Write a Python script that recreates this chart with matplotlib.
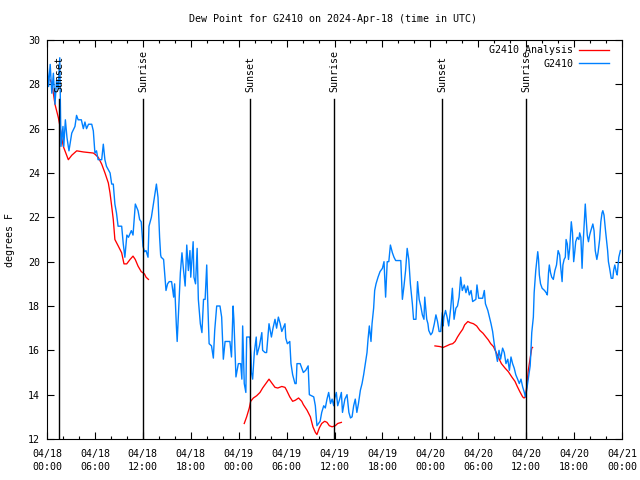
import matplotlib
matplotlib.use("Agg")
import matplotlib.pyplot as plt
from matplotlib.ticker import MultipleLocator

# x values are hours since 2024-04-18 00:00 UTC
blue_hours = [
    0.0, 0.2, 0.4, 0.6, 0.8, 1.0, 1.2, 1.4, 1.6, 1.75,
    2.0, 2.1, 2.3, 2.5, 2.75, 3.1, 3.5, 3.7, 3.9, 4.3,
    4.55, 4.75, 4.95, 5.2, 5.6, 5.8, 6.0, 6.2, 6.4, 6.85,
    7.05, 7.25, 7.45, 7.9, 8.1, 8.3, 8.5, 8.7, 8.9, 9.35,
    9.55, 9.75, 10.0, 10.2, 10.56, 10.77, 11.06, 11.4, 11.6, 11.8,
    12.02, 12.2, 12.4, 12.65, 12.77, 13.07, 13.4, 13.7, 13.9, 14.1,
    14.23, 14.3, 14.6, 14.8, 14.9, 15.1, 15.3, 15.6, 15.86, 15.98,
    16.2, 16.3, 16.5, 16.7, 16.9, 17.1, 17.3, 17.5, 17.7, 17.9,
    18.0, 18.3, 18.4, 18.6, 18.8, 18.95, 19.2, 19.4, 19.6, 19.8,
    20.0, 20.1, 20.3, 20.6, 20.83, 21.0, 21.25, 21.66, 21.87, 22.08,
    22.3, 22.9, 23.1, 23.3, 23.4, 23.66, 23.96, 24.25, 24.4, 24.5,
    24.7, 24.9, 25.0, 25.4, 25.55, 25.6, 25.75, 25.96, 26.2, 26.3,
    26.6, 26.9, 27.0, 27.3, 27.5, 27.8, 28.1, 28.3, 28.55, 28.75,
    28.97, 29.2, 29.4, 29.8, 29.9, 30.1, 30.4, 30.55, 30.76, 31.05,
    31.2, 31.3, 31.7, 31.9, 32.1, 32.4, 32.7, 32.85, 33.4, 33.6,
    33.8, 34.2, 34.4, 34.65, 34.85, 35.06, 35.27, 35.5, 35.7, 35.9,
    36.0, 36.23, 36.4, 36.65, 36.86, 37.0, 37.3, 37.57, 37.8, 38.0,
    38.2, 38.4, 38.6, 38.8, 39.0, 39.24, 39.45, 39.65, 39.86, 40.07,
    40.2, 40.36, 40.57, 40.7, 40.9, 41.03, 41.2, 41.45, 41.7, 42.0,
    42.2, 42.4, 42.6, 42.8, 43.0, 43.25, 43.45, 43.66, 44.3, 44.5,
    44.7, 44.9, 45.1, 45.3, 45.5, 45.75, 45.9, 46.2, 46.4, 46.6,
    46.8, 47.0, 47.2, 47.3, 47.55, 47.7, 47.8, 48.05, 48.25, 48.5,
    48.7, 48.9, 49.1, 49.3, 49.5, 49.6, 49.7, 49.9, 50.1, 50.3,
    50.55, 50.76, 50.97, 51.2, 51.4, 51.6, 51.8, 52.0, 52.25, 52.46,
    52.67, 52.88, 53.1, 53.3, 53.7, 53.84, 54.05, 54.55, 54.76, 54.9,
    55.2, 55.4, 55.6, 55.8, 56.0, 56.2, 56.4, 56.6, 56.8, 57.05,
    57.26, 57.47, 57.7, 57.9, 58.1, 58.3, 58.5, 58.7, 58.93, 59.14,
    59.35, 59.56, 59.77, 59.9, 60.06, 60.18, 60.3, 60.5, 60.6, 60.7,
    60.9, 61.0, 61.2, 61.35, 61.45, 61.55, 61.65, 61.8, 62.0, 62.3,
    62.5, 62.65, 62.8, 62.9, 63.05, 63.2, 63.4, 63.6, 63.8, 64.0,
    64.2, 64.3, 64.5, 64.6, 64.75, 64.9, 65.0, 65.15, 65.3, 65.45,
    65.65, 65.8, 65.95, 66.1, 66.2, 66.4, 66.6, 66.7, 66.85, 67.0,
    67.1, 67.3, 67.4, 67.5, 67.65, 67.8, 67.95, 68.1, 68.35, 68.5,
    68.65, 68.85, 69.0, 69.2, 69.35, 69.5, 69.6, 69.75, 69.95, 70.2,
    70.3, 70.45, 70.65, 70.85, 70.95, 71.1, 71.3, 71.4, 71.6, 71.8,
]
blue_dewpt = [
    29.0, 27.9, 28.9, 27.6, 28.5, 27.1, 28.2, 27.8, 29.2, 25.2,
    26.1, 25.2, 26.4, 25.6, 25.0, 25.8, 26.1, 26.6, 26.4, 26.4,
    26.0, 26.3, 26.0, 26.2, 26.2, 25.9, 24.9, 25.0, 24.6, 24.6,
    25.3, 24.6, 24.3, 24.0, 23.5, 23.5, 22.6, 22.2, 21.6, 21.6,
    20.8, 20.2, 21.2, 21.1, 21.4, 21.2, 22.6, 22.3, 21.9, 21.8,
    20.7, 20.45, 20.5, 20.2, 21.6, 22.0, 22.8, 23.5, 22.9, 21.1,
    20.3, 20.2, 20.1, 19.2, 18.7, 19.0, 19.1, 19.1, 18.4, 19.0,
    17.1, 16.4, 18.0, 19.5, 20.4, 19.6, 18.9, 20.75, 19.6, 20.5,
    19.3, 20.9, 19.3, 19.0, 20.6, 18.3, 17.2, 16.8, 18.3, 18.3,
    19.85, 18.5, 16.3, 16.2, 15.65, 16.9, 18.0, 18.0, 17.5, 15.6,
    16.4, 16.4, 15.7, 18.0, 17.4, 14.8, 15.4, 15.4, 14.7, 17.1,
    14.5, 14.1, 16.6, 16.6, 15.7, 15.0, 14.7, 15.9, 16.6, 15.8,
    16.2, 16.8, 16.0, 15.9, 15.9, 17.2, 16.6, 17.0, 17.4, 17.0,
    17.5, 17.2, 16.85, 17.2, 16.55, 16.3, 16.4, 15.4, 14.9, 14.5,
    14.5, 15.4, 15.4, 15.2, 15.0, 15.1, 15.3, 14.0, 13.9, 13.5,
    12.6, 12.8, 13.2, 13.5, 13.4, 13.8, 14.1, 13.6, 13.8, 13.5,
    13.8, 14.1, 13.5, 13.8, 14.1, 13.2, 13.8, 14.0, 13.2, 12.95,
    13.0, 13.5, 13.8, 13.2, 13.6, 14.2, 14.5, 14.9, 15.4, 15.9,
    16.5, 17.1, 16.4, 17.2, 17.9, 18.7, 19.0, 19.3, 19.55, 19.7,
    20.0, 18.4, 20.0, 20.0, 20.75, 20.4, 20.2, 20.05, 20.05, 18.3,
    18.9, 19.6, 20.6, 20.1, 19.0, 18.1, 17.4, 17.4, 19.1, 18.3,
    18.0, 17.6, 17.4, 18.4, 17.4, 17.2, 16.9, 16.7, 16.8, 17.2,
    17.6, 17.3, 16.85, 16.85, 17.7, 17.1, 17.5, 17.8, 17.5, 17.1,
    17.9, 18.8, 17.4, 17.9, 18.0, 18.4, 19.3, 18.7, 18.95, 18.6,
    18.9, 18.5, 18.7, 18.2, 18.3, 18.95, 18.35, 18.35, 18.7, 18.1,
    17.8, 17.5, 17.2, 16.85, 16.3, 15.9, 15.5, 16.0, 15.6, 16.1,
    15.9, 15.4, 15.6, 15.1, 15.7, 15.4, 15.2, 14.9, 14.7, 14.5,
    14.7, 14.35, 14.1, 13.9, 14.2, 14.5, 14.8, 15.3, 16.0, 16.8,
    17.5, 18.6, 19.6, 20.1, 20.45, 20.1, 19.4, 19.0, 18.8, 18.7,
    18.6, 18.5, 19.5, 19.85, 19.5, 19.3, 19.2, 19.6, 19.85, 20.5,
    20.3, 19.85, 19.1, 19.85, 20.1, 20.2, 21.0, 20.8, 20.1, 20.6,
    21.8, 21.3, 20.0, 20.5, 20.9, 21.1, 21.0, 21.3, 21.1, 19.7,
    20.6, 21.9, 22.6, 22.0, 21.2, 20.9, 21.2, 21.4, 21.7, 21.4,
    20.5, 20.1, 20.4, 21.0, 21.8, 22.2, 22.3, 22.1, 21.35, 20.5,
    20.0, 19.7, 19.25, 19.25, 19.6, 19.85, 19.5, 19.4, 20.2, 20.5,
]

# analysis comes in three separate runs (gaps between them)
anal1_hours = [0.4, 0.63, 1.0, 1.42, 1.63, 1.84, 2.04, 2.67, 3.1, 3.72,
               4.55, 5.8, 6.0, 6.43, 6.85, 7.26, 7.68, 7.89, 8.1, 8.3,
               8.5, 8.93, 9.35, 9.64, 9.98, 10.4, 10.77, 11.05, 11.4, 11.8,
               12.2, 12.4, 12.7]
anal1_dewpt = [28.2, 28.0, 27.1, 26.5, 26.1, 25.6, 25.2, 24.6, 24.8, 25.0,
               24.95, 24.9, 24.85, 24.7, 24.4, 24.0, 23.55, 23.1, 22.5, 21.9,
               21.0, 20.7, 20.4, 19.9, 19.9, 20.1, 20.25, 20.1, 19.8, 19.55,
               19.45, 19.3, 19.2]
anal2_hours = [24.7, 25.0, 25.33, 25.5, 25.84, 26.25, 26.67, 27.0, 27.3, 27.5,
               27.8, 28.1, 28.55, 28.9, 29.4, 29.8, 30.0, 30.4, 30.76, 31.1,
               31.5, 31.9, 32.1, 32.56, 32.98, 33.3, 33.6, 33.8, 34.1, 34.4,
               34.77, 35.06, 35.35, 35.7, 36.1, 36.4, 36.86]
anal2_dewpt = [12.7, 13.0, 13.4, 13.7, 13.85, 13.95, 14.1, 14.3, 14.45, 14.55,
               14.7, 14.55, 14.33, 14.3, 14.37, 14.33, 14.2, 13.9, 13.7, 13.75,
               13.85, 13.7, 13.55, 13.3, 13.0, 12.55, 12.3, 12.2, 12.5, 12.7,
               12.8, 12.75, 12.6, 12.55, 12.6, 12.7, 12.75]
anal3_hours = [48.58, 49.2, 49.6, 50.05, 50.46, 50.8, 51.1, 51.4, 51.7, 52.05,
               52.3, 52.7, 52.97, 53.4, 53.8, 54.2, 54.6, 54.97, 55.26, 55.56,
               55.9, 56.2, 56.5, 56.9, 57.35, 57.76, 58.2, 58.6, 58.9, 59.2,
               59.56, 59.73, 59.9, 60.07, 60.27, 60.48, 60.7, 60.8]
anal3_dewpt = [16.2, 16.17, 16.13, 16.2, 16.27, 16.3, 16.4, 16.6, 16.77, 16.95,
               17.15, 17.3, 17.25, 17.2, 17.1, 16.9, 16.77, 16.6, 16.47, 16.3,
               16.17, 15.94, 15.7, 15.4, 15.2, 15.04, 14.8, 14.6, 14.36, 14.14,
               13.9, 13.85, 13.9, 14.36, 15.1, 15.6, 16.1, 16.13]

sun_hours = [1.55, 12.07, 25.46, 35.98, 49.5, 60.02]
sun_labels = ["Sunset", "Sunrise", "Sunset", "Sunrise", "Sunset", "Sunrise"]

tick_hours = list(range(0, 73, 6))
tick_labels = [
    "04/18\n00:00", "04/18\n06:00", "04/18\n12:00", "04/18\n18:00",
    "04/19\n00:00", "04/19\n06:00", "04/19\n12:00", "04/19\n18:00",
    "04/20\n00:00", "04/20\n06:00", "04/20\n12:00", "04/20\n18:00",
    "04/21\n00:00",
]

RED = "#ff0000"
BLUE = "#0080ff"

plt.rcParams["font.family"] = ["DejaVu Sans Mono"]
plt.rcParams["font.size"] = 7.2

fig = plt.figure(figsize=(6.4, 4.8), dpi=100)
ax = fig.add_axes([47 / 640, 41 / 480, 575 / 640, 399 / 480])

# analysis runs (legend only on the first one)
ax.plot(anal1_hours, anal1_dewpt, color=RED, lw=0.95, label="G2410 Analysis")
ax.plot(anal2_hours, anal2_dewpt, color=RED, lw=0.95)
ax.plot(anal3_hours, anal3_dewpt, color=RED, lw=0.95)
ax.plot(blue_hours, blue_dewpt, color=BLUE, lw=1.0, label="G2410")

# sunrise / sunset markers
xtrans = ax.get_xaxis_transform()
for h, lab in zip(sun_hours, sun_labels):
    ax.axvline(h, ymin=0, ymax=0.852, color="black", lw=1.0)
    ax.text(h, 0.87, lab, transform=xtrans, rotation=90,
            ha="center", va="bottom")

ax.set_xlim(0, 72)
ax.set_ylim(12, 30)
ax.set_xticks(tick_hours)
ax.set_xticklabels(tick_labels, linespacing=1.35)
ax.xaxis.set_minor_locator(MultipleLocator(2))
ax.yaxis.set_major_locator(MultipleLocator(2))
ax.tick_params(which="both", direction="in", top=True, right=True, width=0.8)
ax.tick_params(which="major", length=5)
ax.tick_params(which="minor", length=2.5)
ax.tick_params(axis="x", pad=7)
ax.tick_params(axis="y", pad=5)
for sp in ax.spines.values():
    sp.set_linewidth(0.8)

ax.legend(loc="upper right", bbox_to_anchor=(0.99, 1.005), frameon=False,
          markerfirst=False, handlelength=3.0, handletextpad=0.6,
          labelspacing=0.35, borderaxespad=0.3)

fig.text(333 / 640, 1 - 19 / 480,
         "Dew Point for G2410 on 2024-Apr-18 (time in UTC)",
         ha="center", va="center")
fig.text(10 / 640, 0.5, "degrees F", rotation=90, ha="center", va="center")

fig.savefig("out.png", dpi=100)
